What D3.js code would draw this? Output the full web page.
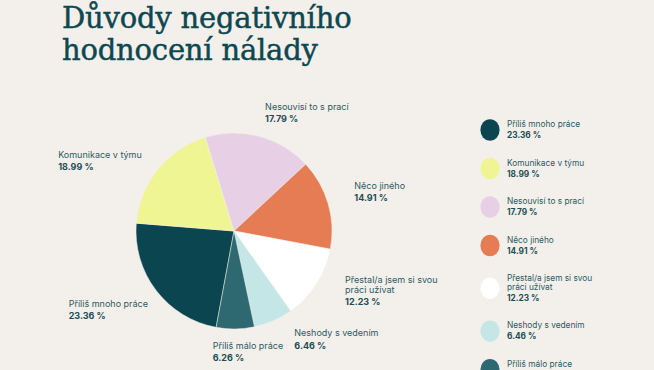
<!DOCTYPE html>
<html>
<head>
<meta charset="utf-8">
<script src="https://cdn.jsdelivr.net/npm/d3@7"></script>
<style>
  html, body { margin: 0; padding: 0; background: #f3f0eb; }
  svg { display: block; }
</style>
</head>
<body>
<div id="chart"></div>
<script>
// --- data ---
const titleLines = ["Důvody negativního", "hodnocení nálady"];
const categories = [
    ["Příliš mnoho práce"],
    ["Komunikace v týmu"],
    ["Nesouvisí to s prací"],
    ["Něco jiného"],
    ["Přestal/a jsem si svou", "práci užívat"],
    ["Neshody s vedením"],
    ["Příliš málo práce"]
];
const shares = [23.36, 18.99, 17.79, 14.91, 12.23, 6.46, 6.26];
const colors = ["#0b4650", "#eff593", "#e7d0e5", "#e57c53", "#ffffff", "#c5e6e6", "#2e6870"];

const data = categories.map((lines, i) => ({lines, value: shares[i], color: colors[i]}));
const fmt = v => v.toFixed(2) + " %";

const width = 654, height = 370;
const cx = 234, cy = 231, radius = 98;
const textColor = "#2d5a62", valueColor = "#1d4c55";

const svg = d3.select("#chart").append("svg")
    .attr("width", width)
    .attr("height", height)
    .attr("viewBox", [0, 0, width, height]);

svg.append("rect").attr("width", width).attr("height", height).attr("fill", "#f3f0eb");

// title
svg.append("text")
    .attr("x", 62)
    .attr("y", 28)
    .attr("fill", "#0d4750")
    .attr("stroke", "#0d4750")
    .attr("stroke-width", 0.45)
    .style("font-family", "'DejaVu Serif', serif")
    .style("font-size", "29px")
    .style("letter-spacing", "-0.2px")
    .selectAll("tspan")
    .data(titleLines)
    .join("tspan")
    .attr("x", 62)
    .attr("dy", (d, i) => i ? 32 : 0)
    .text(d => d);

// pie
const startAngle = 190.5 * Math.PI / 180;
const pie = d3.pie().sort(null).value(d => d.value)
    .startAngle(startAngle).endAngle(startAngle + 2 * Math.PI);
const arcs = pie(data);
const arc = d3.arc().innerRadius(0).outerRadius(radius);

const g = svg.append("g").attr("transform", `translate(${cx},${cy})`);
g.selectAll("path")
    .data(arcs)
    .join("path")
    .attr("d", arc)
    .attr("fill", d => d.data.color)
    .attr("stroke", "#f3f0eb")
    .attr("stroke-width", 0.5);

// pie labels: block centred vertically on a point outside the slice
const labelR = 121, labelShift = 6, labelTurn = -3 * Math.PI / 180;
const labels = g.selectAll("g.label")
    .data(arcs)
    .join("g")
    .attr("class", "label")
    .style("font-family", "Inter, sans-serif");

labels.each(function(d) {
    const sel = d3.select(this);
    const t = sel.append("text").attr("fill", textColor).style("font-size", "9px");
    d.data.lines.forEach((line, i) => {
        t.append("tspan").attr("x", 0).attr("y", i * 9.5).text(line);
    });
    sel.append("text")
        .attr("fill", valueColor)
        .style("font-size", "9px")
        .style("font-weight", 700)
        .attr("x", 0)
        .attr("y", (d.data.lines.length - 1) * 9.5 + 12.5)
        .text(fmt(d.data.value));

    const bb = this.getBBox();
    const mid = (d.startAngle + d.endAngle) / 2 + labelTurn;
    const sx = Math.sin(mid), sy = -Math.cos(mid);
    const px = labelR * sx + labelShift, py = labelR * sy;
    let x;
    if (Math.abs(sx) < 0.2) x = px - bb.width / 2 - bb.x;
    else if (sx > 0) x = px - bb.x;
    else x = px - bb.width - bb.x;
    const y = py - bb.height / 2 - bb.y;
    sel.attr("transform", `translate(${x},${y})`);
});

// legend
const legend = svg.append("g")
    .attr("transform", "translate(490,0)")
    .style("font-family", "Inter, sans-serif");

let rowTop = 121;
data.forEach(d => {
    const row = legend.append("g");
    const lineH = 8.7;
    const t = row.append("text").attr("fill", textColor).style("font-size", "8.3px");
    d.lines.forEach((line, i) => {
        t.append("tspan").attr("x", 17).attr("y", rowTop + 6 + i * lineH).text(line);
    });
    const valY = rowTop + 6 + (d.lines.length - 1) * lineH + 11;
    row.append("text")
        .attr("fill", valueColor)
        .style("font-size", "8.3px")
        .style("font-weight", 700)
        .attr("x", 17)
        .attr("y", valY)
        .text(fmt(d.value));
    const mid = (rowTop + valY + 1) / 2;
    row.insert("ellipse", "text")
        .attr("cx", 0)
        .attr("cy", mid)
        .attr("rx", 9.6)
        .attr("ry", 10.8)
        .attr("fill", d.color);
    rowTop = valY + 21.5;
});
</script>
</body>
</html>
